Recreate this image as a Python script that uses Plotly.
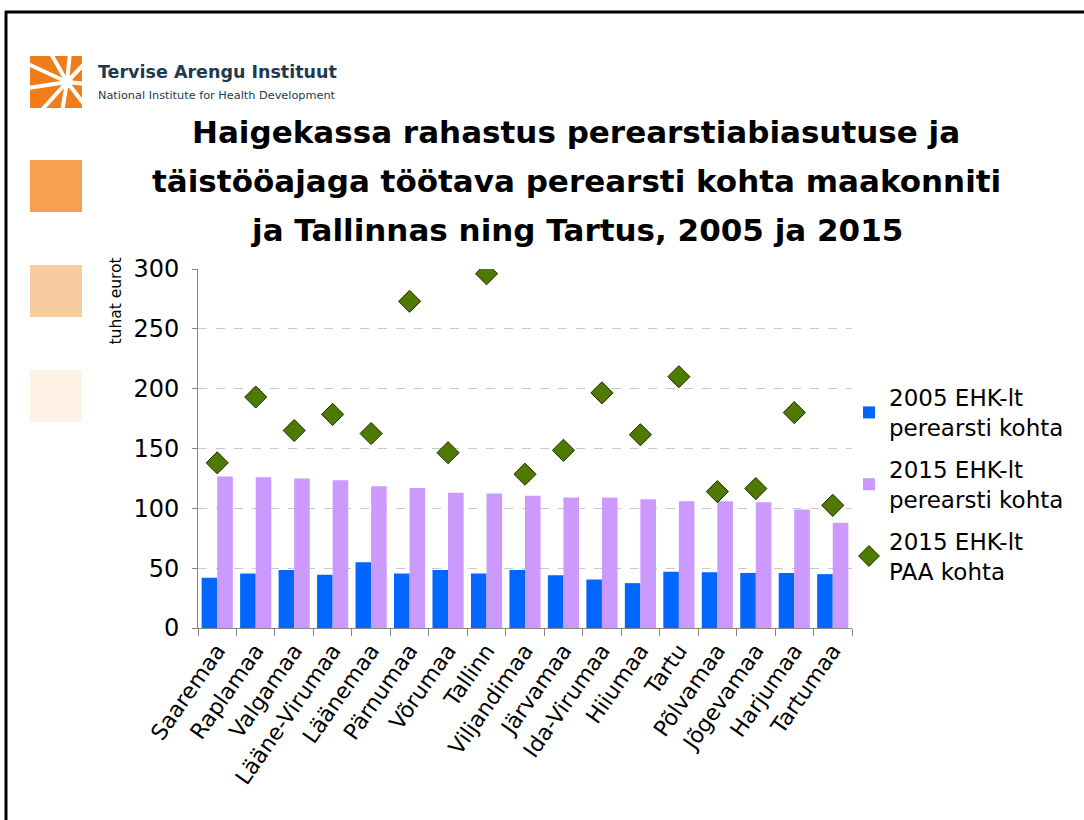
import plotly.graph_objects as go

categories = ["Saaremaa", "Raplamaa", "Valgamaa", "Lääne-Virumaa", "Läänemaa", "Pärnumaa",
              "Võrumaa", "Tallinn", "Viljandimaa", "Järvamaa", "Ida-Virumaa", "Hiiumaa",
              "Tartu", "Põlvamaa", "Jõgevamaa", "Harjumaa", "Tartumaa"]
ehk2005_perearst = [42, 45.5, 48.5, 44.5, 55, 45.5, 48.5, 45.5, 48.5, 44, 40.5, 37.5, 47, 46.5, 46, 46, 45]
ehk2015_perearst = [126.5, 126, 125, 123.5, 118.5, 117, 113, 112.5, 110.5, 109, 109, 107.5, 106, 106, 105, 99, 88]
ehk2015_paa = [138, 193, 165, 178.5, 162.5, 273, 146.5, 296, 128.5, 148.5, 196.5, 161.5, 210, 114, 116.5, 180, 102.5]

series_names = ["2005 EHK-lt<br>perearsti kohta", "2015 EHK-lt<br>perearsti kohta", "2015 EHK-lt<br>PAA kohta"]
y_ticks = [0, 50, 100, 150, 200, 250, 300]
title_lines = ["Haigekassa rahastus perearstiabiasutuse ja",
               "täistööajaga töötava perearsti kohta maakonniti",
               "ja Tallinnas ning Tartus, 2005 ja 2015"]

W, H = 1084, 820
L, R, T, B = 198, 852, 269, 628

def px(x):
    return (x - L) / (R - L)

def py(y):
    return (B - y) / (B - T)

fig = go.Figure()
fig.add_trace(go.Bar(x=categories, y=ehk2005_perearst, name=series_names[0], legendgroup="a",
                     marker=dict(color="#0066FF", line=dict(width=0))))
fig.add_trace(go.Bar(x=categories, y=ehk2015_perearst, name=series_names[1], legendgroup="b",
                     marker=dict(color="#CC99FF", line=dict(width=0))))
fig.add_trace(go.Scatter(x=categories, y=ehk2015_paa, name=series_names[2], mode="markers", legendgroup="c",
                         marker=dict(symbol="diamond", size=17, color="#4E7A00",
                                     line=dict(color="#1A2A00", width=1))))

shapes = []
# slide frame (left and top lines)
shapes.append(dict(type="line", xref="paper", yref="paper", x0=px(6), x1=px(6), y0=py(11), y1=py(830),
                   line=dict(color="black", width=3)))
shapes.append(dict(type="line", xref="paper", yref="paper", x0=px(5), x1=px(1090), y0=py(12), y1=py(12),
                   line=dict(color="black", width=3)))
# orange squares
for (y0, col) in [(160, "#F6A052"), (265, "#F9CC9F"), (370, "#FEF1E6")]:
    shapes.append(dict(type="rect", xref="paper", yref="paper", x0=px(30), x1=px(82), y0=py(y0), y1=py(y0 + 52),
                       fillcolor=col, line=dict(width=0), layer="below"))
# logo
shapes.append(dict(type="rect", xref="paper", yref="paper", x0=px(30), x1=px(82), y0=py(56), y1=py(108),
                   fillcolor="#EE7D1A", line=dict(width=0)))
cx, cy = 67, 82
for (ex, ey) in [(28, 64), (50, 52), (70, 52), (86, 62), (86, 84), (84, 104), (62, 112), (40, 112), (28, 88)]:
    shapes.append(dict(type="line", xref="paper", yref="paper", x0=px(cx), y0=py(cy), x1=px(ex), y1=py(ey),
                       line=dict(color="white", width=4)))
shapes.append(dict(type="circle", xref="paper", yref="paper", x0=px(cx - 6), x1=px(cx + 6), y0=py(cy - 6),
                   y1=py(cy + 6), fillcolor="white", line=dict(width=0)))
shapes.append(dict(type="rect", xref="paper", yref="paper", x0=px(82), x1=px(92), y0=py(50), y1=py(112),
                   fillcolor="white", line=dict(width=0)))

annotations = []
for i, line in enumerate(title_lines):
    annotations.append(dict(text="<b>" + line + "</b>", xref="paper", yref="paper", x=px(576), y=py(132 + 49 * i),
                            xanchor="center", yanchor="middle", showarrow=False,
                            font=dict(family="DejaVu Sans", size=31, color="black")))
annotations.append(dict(text="<b>Tervise Arengu Instituut</b>", xref="paper", yref="paper", x=px(96), y=py(72),
                        xanchor="left", yanchor="middle", showarrow=False,
                        font=dict(family="DejaVu Sans", size=17.5, color="#1F3A4F")))
annotations.append(dict(text="National Institute for Health Development", xref="paper", yref="paper", x=px(96),
                        y=py(95), xanchor="left", yanchor="middle", showarrow=False,
                        font=dict(family="DejaVu Sans", size=11.3, color="#1F3A4F")))
annotations.append(dict(text="tuhat eurot", xref="paper", yref="paper", x=px(115), y=py(256), textangle=-90,
                        xanchor="center", yanchor="top", showarrow=False,
                        font=dict(family="DejaVu Sans", size=15.5, color="black")))

fig.update_layout(
    width=W, height=H,
    margin=dict(l=L, r=W - R, t=T, b=H - B, pad=0),
    paper_bgcolor="white", plot_bgcolor="white",
    barmode="group", bargap=0.19, bargroupgap=0,
    showlegend=True,
    legend=dict(x=px(849), y=py(376), xanchor="left", yanchor="top",
                font=dict(family="DejaVu Sans", size=23, color="black"),
                tracegroupgap=9, itemwidth=30, bgcolor="rgba(0,0,0,0)"),
    shapes=shapes, annotations=annotations,
    xaxis=dict(type="category", range=[-0.5, len(categories) - 0.5], tickangle=-55, tickson="boundaries",
               ticks="outside", ticklen=7,
               tickcolor="#868686", showline=True, linecolor="#868686", linewidth=1,
               tickfont=dict(family="DejaVu Sans", size=22, color="black"), showgrid=False),
    yaxis=dict(range=[0, 300], tickvals=y_ticks, ticks="outside", ticklen=5, tickcolor="#868686",
               showline=True, linecolor="#868686", linewidth=1, showgrid=True, gridcolor="#C8C8C8",
               griddash="dash", gridwidth=1, zeroline=False, ticklabelstandoff=8,
               tickfont=dict(family="DejaVu Sans", size=24, color="black")),
    font=dict(family="DejaVu Sans"),
)

fig.write_html("out.html", config={"displayModeBar": False},
               post_script="document.body.style.margin='0';document.body.style.overflow='hidden';")
